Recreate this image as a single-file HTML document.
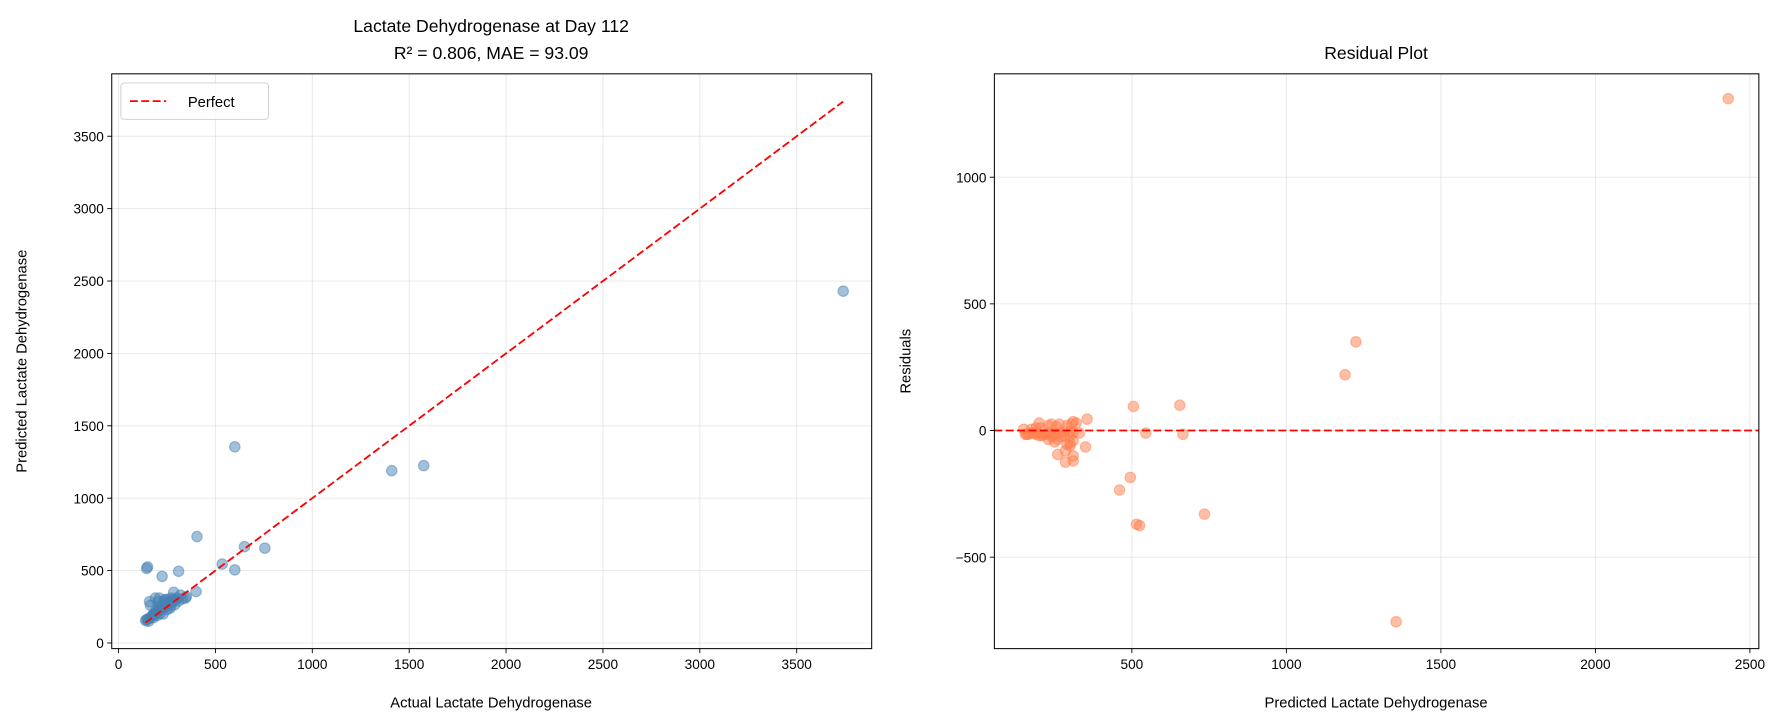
<!DOCTYPE html>
<html><head><meta charset="utf-8"><style>
html,body{margin:0;padding:0;background:#fff;}
svg{display:block;font-family:"Liberation Sans","DejaVu Sans",sans-serif;}
</style></head><body>
<svg id="chart" width="1782" height="727" viewBox="0 0 1568 640" xmlns="http://www.w3.org/2000/svg"></svg>
<script>
const actualVals = [3740,600,1410,1575,405,650,755,535,600,145,150,225,310,400,350,
140,145,150,155,160,170,175,180,185,190,195,200,205,210,215,220,225,230,235,240,245,250,255,260,265,270,280,285,290,295,300,310,320,330,210,190,205,165,230,250,345,270,200,180,215,240,275,160];
const predictedVals = [2430,1355,1190,1225,735,665,655,545,505,515,525,460,495,355,320,
155,160,165,150,170,180,190,200,195,210,230,215,250,225,240,230,260,245,290,250,270,300,265,280,240,310,300,350,265,300,310,290,330,305,310,310,285,260,200,230,310,255,190,175,205,300,280,285];
const leftTicks = [0,500,1000,1500,2000,2500,3000,3500];
const rightXTicks = [500,1000,1500,2000,2500];
const rightYTicks = [-500,0,500,1000];

const svg = document.getElementById('chart');
const NS = 'http://www.w3.org/2000/svg';
function mk(tag, attrs, parent){const e=document.createElementNS(NS,tag);for(const k in attrs)e.setAttribute(k,attrs[k]);(parent||svg).appendChild(e);return e;}
function txt(s, attrs){const e=mk('text',attrs);e.textContent=s;return e;}

const L = {x0:98,x1:767,y0:65,y1:571, xmin:-35,xmax:3887, ymin:-39,ymax:3931};
const R = {x0:875,x1:1548,y0:65,y1:571, xmin:55,xmax:2529, ymin:-861,ymax:1408};
function sx(a,v){return a.x0+(v-a.xmin)/(a.xmax-a.xmin)*(a.x1-a.x0);}
function sy(a,v){return a.y1-(v-a.ymin)/(a.ymax-a.ymin)*(a.y1-a.y0);}
const DASH='7,3';

function axes(a, xt, yt, name){
  for(const t of xt){
    const g=mk('line',{x1:sx(a,t),x2:sx(a,t),y1:a.y0,y2:a.y1,stroke:'#b0b0b0','stroke-opacity':0.3,'stroke-width':0.8});
    
    
    mk('line',{x1:sx(a,t),x2:sx(a,t),y1:a.y1,y2:a.y1+4,stroke:'#000','stroke-width':0.8});
    const l=txt(String(t).replace('-','\u2212'),{x:sx(a,t),y:a.y1+18,'text-anchor':'middle','font-size':12});
    
    
  }
  for(const t of yt){
    const g=mk('line',{x1:a.x0,x2:a.x1,y1:sy(a,t),y2:sy(a,t),stroke:'#b0b0b0','stroke-opacity':0.3,'stroke-width':0.8});
    
    
    mk('line',{x1:a.x0-4,x2:a.x0,y1:sy(a,t),y2:sy(a,t),stroke:'#000','stroke-width':0.8});
    const l=txt(String(t).replace('-','\u2212'),{x:a.x0-7,y:sy(a,t)+4.5,'text-anchor':'end','font-size':12});
    
    
  }
}
axes(L,leftTicks,leftTicks,'left');
axes(R,rightXTicks,rightYTicks,'right');

actualVals.forEach((a,i)=>{
  const c=mk('circle',{cx:sx(L,a),cy:sy(L,predictedVals[i]),r:4.6,fill:'#4682b4','fill-opacity':0.5,stroke:'#4682b4','stroke-opacity':0.5,'stroke-width':1});
  
  
});
const mn=Math.min(...actualVals), mx=Math.max(...actualVals);
const pl=mk('line',{x1:sx(L,mn),y1:sy(L,mn),x2:sx(L,mx),y2:sy(L,mx),stroke:'#ff0000','stroke-width':1.6,'stroke-dasharray':DASH});



predictedVals.forEach((p,i)=>{
  const c=mk('circle',{cx:sx(R,p),cy:sy(R,actualVals[i]-p),r:4.6,fill:'#ff7f50','fill-opacity':0.5,stroke:'#ff7f50','stroke-opacity':0.5,'stroke-width':1});
  
  
});
const zl=mk('line',{x1:R.x0,x2:R.x1,y1:sy(R,0),y2:sy(R,0),stroke:'#ff0000','stroke-width':1.6,'stroke-dasharray':DASH});



for(const [a,n] of [[L,'left-axes-frame'],[R,'right-axes-frame']]){
  const f=mk('rect',{x:a.x0,y:a.y0,width:a.x1-a.x0,height:a.y1-a.y0,fill:'none',stroke:'#000','stroke-width':0.9});
  
  
}

const lg=mk('rect',{x:106,y:73,width:130,height:32,rx:3,fill:'#fff','fill-opacity':0.8,stroke:'#ccc','stroke-width':0.8});


mk('line',{x1:114,x2:146,y1:89,y2:89,stroke:'#ff0000','stroke-width':1.6,'stroke-dasharray':DASH});
const lt=txt('Perfect',{x:165,y:94,'font-size':13});



let t;
t=txt('Lactate Dehydrogenase at Day 112',{x:432,y:28,'text-anchor':'middle','font-size':15.5});

t=txt('R² = 0.806, MAE = 93.09',{x:432,y:52,'text-anchor':'middle','font-size':15.5});

t=txt('Residual Plot',{x:1211,y:52,'text-anchor':'middle','font-size':15.5});

t=txt('Actual Lactate Dehydrogenase',{x:432,y:623,'text-anchor':'middle','font-size':13});

t=txt('Predicted Lactate Dehydrogenase',{x:1211,y:623,'text-anchor':'middle','font-size':13});

t=txt('Predicted Lactate Dehydrogenase',{x:0,y:0,'text-anchor':'middle','font-size':13,transform:'translate(23,318) rotate(-90)'});

t=txt('Residuals',{x:0,y:0,'text-anchor':'middle','font-size':13,transform:'translate(801,318) rotate(-90)'});

</script>
</body></html>
